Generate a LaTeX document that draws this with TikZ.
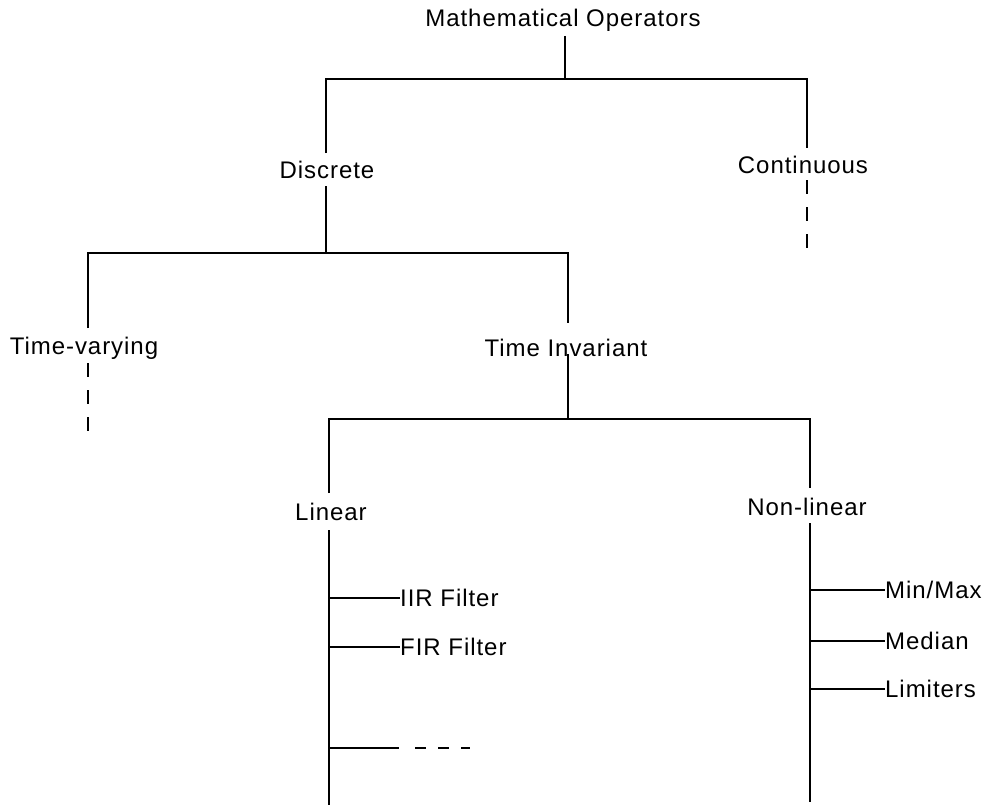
\documentclass[tikz,border=0pt]{standalone}
\usepackage{fontspec}
\setmainfont{Liberation Sans}[LetterSpace=4]
\begin{document}
\begin{tikzpicture}[x=1pt,y=-1pt,
  lbl/.style={inner sep=0pt, font=\fontsize{24}{28}\selectfont},
  ln/.style={line width=2.7pt},
  dln/.style={line width=2.7pt, dash pattern=on 14pt off 13pt},
  hdln/.style={line width=1.9pt, dash pattern=on 11pt off 12pt},
  br/.style={line width=1.9pt}]
\useasboundingbox (0,0) rectangle (987,808);
\fill[white] (0,0) rectangle (987,808);
% texts
\node[lbl] (root) at (563,20) {Mathematical Operators};
\node[lbl] (disc) at (327,170) {Discrete};
\node[lbl] (cont) at (803,165) {Continuous};
\node[lbl] (tv) at (84,348) {Time-varying};
\node[lbl] (ti) at (566,348) {Time Invariant};
\node[lbl] (lin) at (331,512) {Linear};
\node[lbl] (nl) at (807,507) {Non-linear};
\node[lbl, anchor=west] (iir) at (400,598) {IIR Filter};
\node[lbl, anchor=west] (fir) at (400,647) {FIR Filter};
\node[lbl, anchor=west] (minmax) at (885,590) {Min/Max};
\node[lbl, anchor=west] (median) at (885,641) {Median};
\node[lbl, anchor=west] (limit) at (885,689) {Limiters};
% coordinates
\coordinate (r1) at (565,36);
\coordinate (j1) at (565,79);
\coordinate (d1) at (326,153);
\coordinate (d2) at (326,186);
\coordinate (j2) at (326,253);
\coordinate (c1) at (807,148);
\coordinate (c2) at (807,180);
\coordinate (c3) at (807,250);
\coordinate (t1) at (88,328);
\coordinate (t2) at (88,363);
\coordinate (t3) at (88,437);
\coordinate (i1) at (568,323);
\coordinate (i2) at (568,354);
\coordinate (j3) at (568,419);
\coordinate (l1) at (329,493);
\coordinate (l2) at (329,530);
\coordinate (l3) at (329,805);
\coordinate (n1) at (810,488);
\coordinate (n2) at (810,523);
\coordinate (n3) at (810,802);
\coordinate (e1) at (329,748);
\coordinate (e2) at (399,748);
\coordinate (e3) at (415,748);
\coordinate (e4) at (470,748);
% tree
\draw[ln] (r1) -- (j1);
\draw[ln] (d1) |- (j1) -| (c1);
\draw[ln] (d2) -- (j2);
\draw[dln] (c2) -- (c3);
\draw[ln] (t1) |- (j2) -| (i1);
\draw[dln] (t2) -- (t3);
\draw[ln] (i2) -- (j3);
\draw[ln] (l1) |- (j3) -| (n1);
\draw[ln] (l2) -- (l3);
\draw[ln] (n2) -- (n3);
% branches
\draw[br] (l2 |- iir.west) -- (iir.west);
\draw[br] (l2 |- fir.west) -- (fir.west);
\draw[br] (e1) -- (e2);
\draw[hdln] (e3) -- (e4);
\draw[br] (n2 |- minmax.west) -- (minmax.west);
\draw[br] (n2 |- median.west) -- (median.west);
\draw[br] (n2 |- limit.west) -- (limit.west);
\end{tikzpicture}
\end{document}
